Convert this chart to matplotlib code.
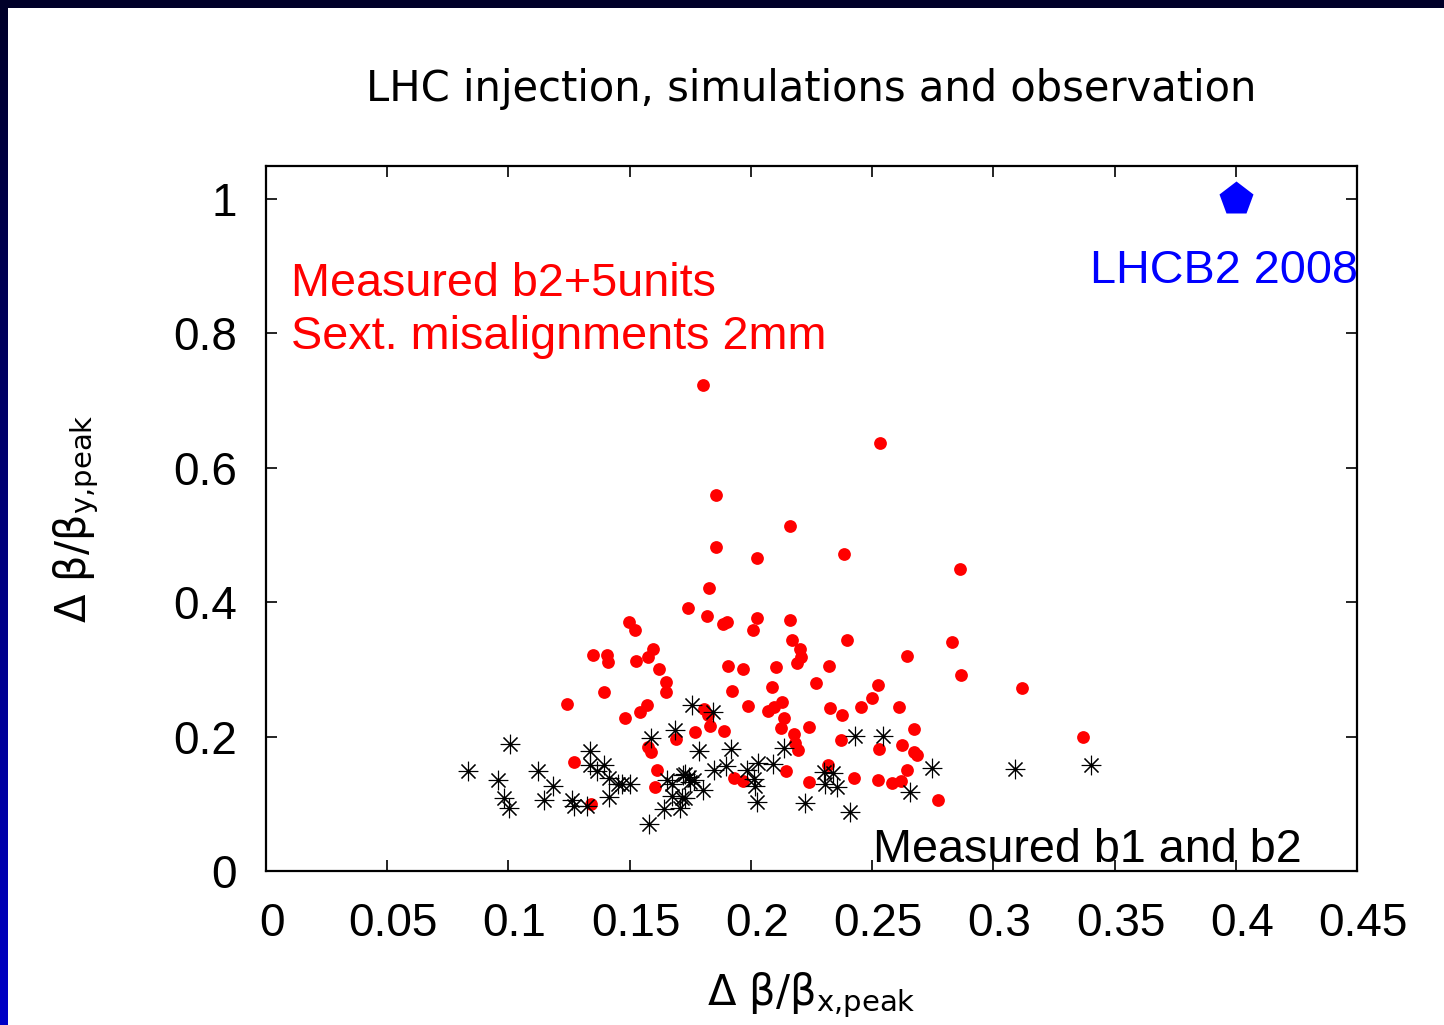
import numpy as np
import matplotlib
matplotlib.use("Agg")
import matplotlib.pyplot as plt
from matplotlib.patches import Rectangle
from matplotlib.transforms import ScaledTranslation

plt.rcParams['font.family'] = ['Liberation Sans', 'DejaVu Sans']
plt.rcParams['mathtext.fontset'] = 'custom'
plt.rcParams['mathtext.rm'] = 'DejaVu Sans'
plt.rcParams['mathtext.it'] = 'DejaVu Sans'
plt.rcParams['mathtext.bf'] = 'DejaVu Sans:bold'

# ---------------- data ----------------
# simulations: measured b2 + 5 units, sextupole misalignments 2 mm (red)
red_x = [0.1803, 0.2531, 0.1857, 0.2161, 0.1857, 0.2027, 0.2383, 0.2863, 0.1826, 0.1742,
         0.1820, 0.1884, 0.1900, 0.2027, 0.2160, 0.1496, 0.1522, 0.2007, 0.2395, 0.2170,
         0.2830, 0.1348, 0.1405, 0.1412, 0.1598, 0.1574, 0.1527, 0.2201, 0.2208, 0.2190,
         0.1621, 0.1907, 0.1966, 0.2102, 0.2321, 0.2645, 0.2865, 0.1649, 0.1650, 0.1393,
         0.1921, 0.2088, 0.2270, 0.2523, 0.2501, 0.2130, 0.1242, 0.1573, 0.1480, 0.1543,
         0.1807, 0.1824, 0.1987, 0.1768, 0.1831, 0.1890, 0.1691, 0.1574, 0.1589, 0.1269,
         0.1614, 0.1603, 0.1929, 0.1967, 0.1341, 0.3117, 0.3371, 0.2071, 0.2095, 0.2138,
         0.2123, 0.2241, 0.2326, 0.2376, 0.2454, 0.2611, 0.2673, 0.2178, 0.2182, 0.2196,
         0.2370, 0.2530, 0.2625, 0.2672, 0.2686, 0.2319, 0.2645, 0.2146, 0.2238, 0.2427,
         0.2526, 0.2582, 0.2620, 0.2771]
red_y = [0.723, 0.637, 0.559, 0.514, 0.482, 0.466, 0.471, 0.450, 0.421, 0.391,
         0.380, 0.368, 0.371, 0.377, 0.374, 0.370, 0.358, 0.358, 0.343, 0.344,
         0.341, 0.321, 0.322, 0.311, 0.331, 0.319, 0.312, 0.331, 0.319, 0.310,
         0.300, 0.305, 0.301, 0.304, 0.305, 0.320, 0.291, 0.281, 0.267, 0.267,
         0.268, 0.274, 0.279, 0.277, 0.258, 0.252, 0.249, 0.247, 0.227, 0.236,
         0.241, 0.232, 0.246, 0.207, 0.216, 0.208, 0.196, 0.184, 0.177, 0.162,
         0.151, 0.125, 0.138, 0.134, 0.100, 0.273, 0.200, 0.238, 0.244, 0.228,
         0.213, 0.214, 0.243, 0.232, 0.244, 0.244, 0.212, 0.204, 0.190, 0.180,
         0.195, 0.181, 0.187, 0.177, 0.172, 0.158, 0.150, 0.149, 0.133, 0.139,
         0.135, 0.131, 0.134, 0.105]

# measured b1 and b2 (black asterisks)
meas_x = [0.1758, 0.1844, 0.1686, 0.1589, 0.1785, 0.1918, 0.1006, 0.1336, 0.1336, 0.1364,
          0.1395, 0.1416, 0.1453, 0.1470, 0.1500, 0.0834, 0.0956, 0.1121, 0.1184, 0.0982,
          0.1002, 0.1148, 0.1263, 0.1269, 0.1325, 0.1414, 0.1580, 0.1643, 0.1654, 0.1676,
          0.1719, 0.1728, 0.1744, 0.1750, 0.1764, 0.1676, 0.1717, 0.1728, 0.1706, 0.1804,
          0.1847, 0.1897, 0.1983, 0.2137, 0.2429, 0.2544, 0.2031, 0.2090, 0.2012, 0.2017,
          0.2027, 0.2224, 0.2408, 0.2302, 0.2340, 0.2306, 0.2354, 0.2746, 0.2658, 0.3089,
          0.3402]
meas_y = [0.247, 0.236, 0.210, 0.198, 0.179, 0.182, 0.189, 0.178, 0.158, 0.149,
          0.158, 0.139, 0.130, 0.129, 0.130, 0.149, 0.136, 0.149, 0.127, 0.108,
          0.094, 0.105, 0.106, 0.097, 0.097, 0.110, 0.070, 0.092, 0.135, 0.129,
          0.143, 0.145, 0.140, 0.133, 0.135, 0.112, 0.109, 0.108, 0.094, 0.121,
          0.151, 0.156, 0.151, 0.183, 0.201, 0.201, 0.160, 0.159, 0.137, 0.126,
          0.102, 0.101, 0.088, 0.147, 0.146, 0.130, 0.125, 0.154, 0.118, 0.152,
          0.158]

# LHC B2 2008 observation
obs_x = [0.4]
obs_y = [1.0]

xticks = [0, 0.05, 0.1, 0.15, 0.2, 0.25, 0.3, 0.35, 0.4, 0.45]
xtick_labels = ['0', '0.05', '0.1', '0.15', '0.2', '0.25', '0.3', '0.35', '0.4', '0.45']
yticks = [0, 0.2, 0.4, 0.6, 0.8, 1.0]
ytick_labels = ['0', '0.2', '0.4', '0.6', '0.8', '1']

title = 'LHC injection, simulations and observation'
sim_label_1 = 'Measured b2+5units'
sim_label_2 = 'Sext. misalignments 2mm'
obs_label = 'LHCB2 2008'
meas_label = 'Measured b1 and b2'

# ---------------- figure ----------------
W, H = 1444, 1025
fig = plt.figure(figsize=(W / 100, H / 100), dpi=100)
fig.patch.set_facecolor('white')

# slide border: gradient strip on the left, dark strip on top
grad = np.zeros((256, 1, 3))
grad[:, 0, 2] = np.linspace(0.16, 0.78, 256)
bax = fig.add_axes([0, 0, 8 / W, 1])
bax.imshow(grad, aspect='auto', interpolation='bilinear')
bax.set_axis_off()
fig.patches.append(Rectangle((0, 1 - 8 / H), 1, 8 / H, transform=fig.transFigure,
                             facecolor=(0, 0, 0.16), edgecolor='none', zorder=5))

ax = fig.add_axes([266 / W, 1 - 871 / H, (1357 - 266) / W, (871 - 166) / H])
ax.set_xlim(0, 0.45)
ax.set_ylim(0, 1.049)

ax.plot(red_x, red_y, ls='none', marker='o', ms=9.2, color='#ff0000', mec='none', zorder=3)
ax.plot(meas_x, meas_y, ls='none', marker=(8, 2, 0), ms=14, mew=0.8, color='black', zorder=4)
ax.plot(obs_x, obs_y, ls='none', marker='p', ms=25.5, color='#0000ff', mec='none',
        zorder=5, clip_on=False)

ax.set_xticks(xticks)
ax.set_xticklabels(xtick_labels)
ax.set_yticks(yticks)
ax.set_yticklabels(ytick_labels)
ax.tick_params(direction='in', length=8, width=1.2, top=True, right=True,
               labelsize=33, colors='black')
ax.tick_params(axis='y', pad=21)
ax.tick_params(axis='x', pad=22)
for s in ax.spines.values():
    s.set_linewidth(1.6)
shift = ScaledTranslation(6 / 100, 0, fig.dpi_scale_trans)
for lab in ax.get_xticklabels():
    lab.set_transform(lab.get_transform() + shift)

fs = 33.7
ax.text(0.0103, 0.855, sim_label_1, color='#ff0000', fontsize=fs, ha='left', va='baseline')
ax.text(0.0103, 0.777, sim_label_2, color='#ff0000', fontsize=fs, ha='left', va='baseline')
ax.text(0.3398, 0.875, obs_label, color='#0000ff', fontsize=fs, ha='left', va='baseline')
ax.text(0.2505, 0.0138, meas_label, color='black', fontsize=fs, ha='left', va='baseline')

fig.text(811.5 / W, 1 - 101.5 / H, title, ha='center', va='baseline',
         fontsize=30, family='DejaVu Sans')

fig.text(811.5 / W, 1 - 995 / H, r'$\Delta\ \beta/\beta_{\mathrm{x{,}peak}}$',
         ha='center', va='center', fontsize=30)
fig.text(76 / W, 1 - 518.5 / H, r'$\Delta\ \beta/\beta_{\mathrm{y{,}peak}}$',
         ha='center', va='center', rotation=90, fontsize=30)

fig.savefig('out.png', dpi=100, facecolor='white')
